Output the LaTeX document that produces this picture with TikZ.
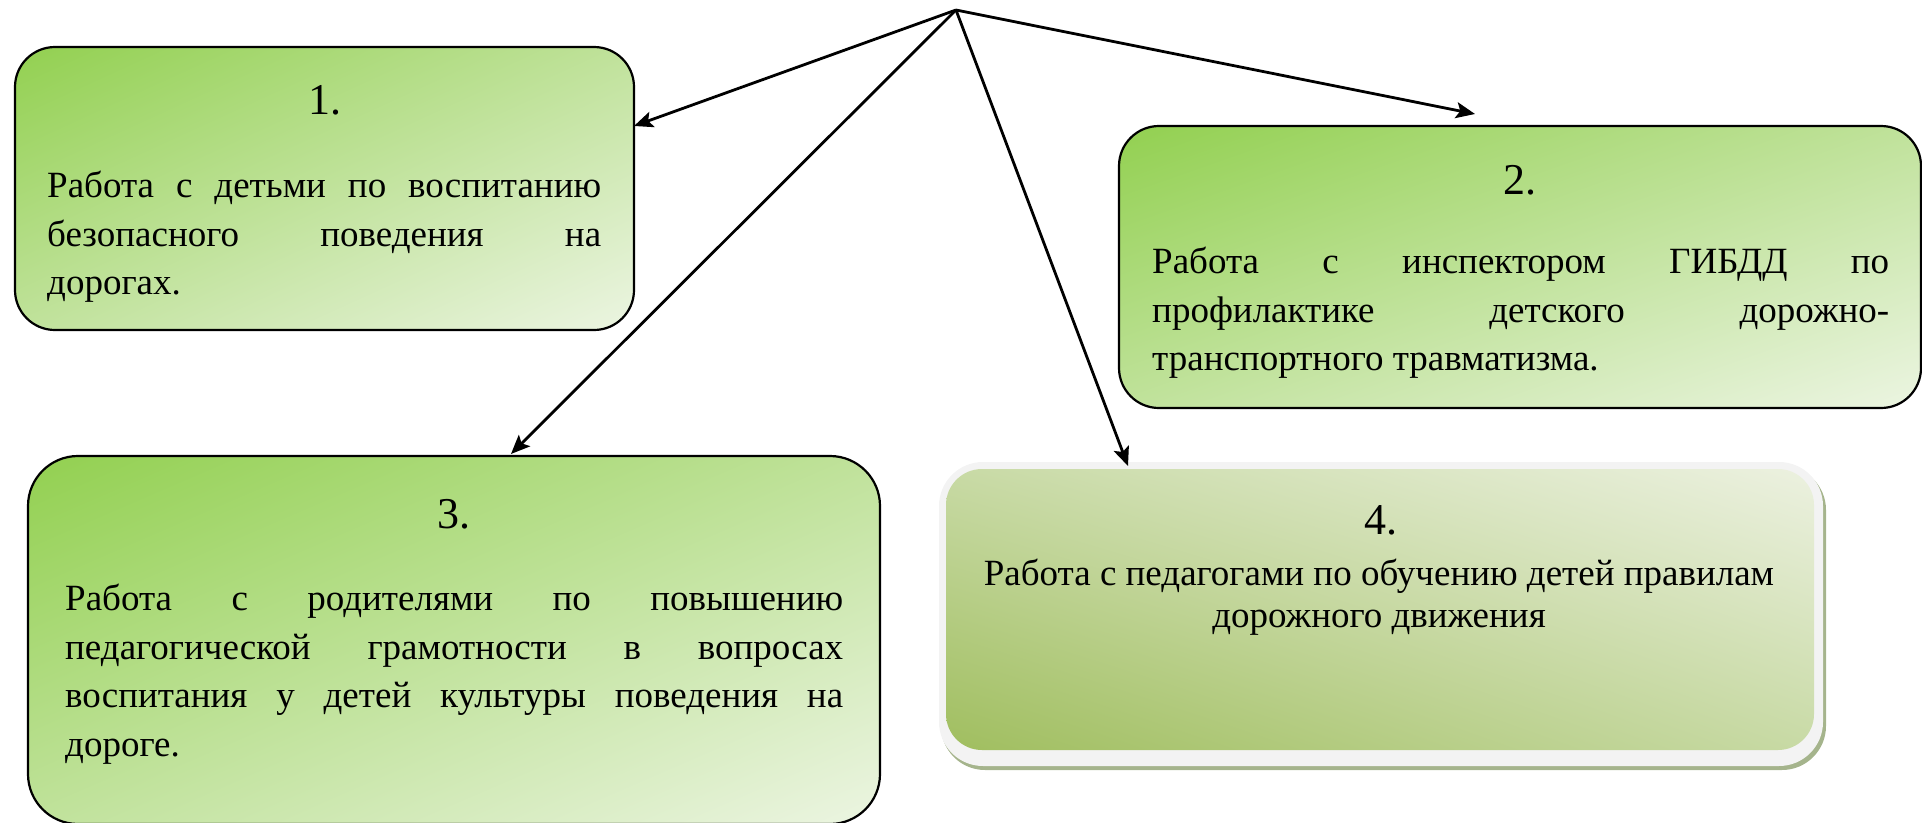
\documentclass[tikz,border=0pt]{standalone}
\usepackage{fontspec}
\setmainfont{Liberation Serif}
\usetikzlibrary{arrows.meta,shadings}
\definecolor{gDark}{RGB}{146,208,80}
\definecolor{gMid}{RGB}{192,226,155}
\definecolor{gPale}{RGB}{236,245,226}
\definecolor{oDark}{RGB}{160,190,95}
\definecolor{oMid}{RGB}{200,218,165}
\definecolor{oPale}{RGB}{236,241,224}
\definecolor{frameC}{RGB}{243,243,243}
\definecolor{shadowC}{RGB}{165,180,140}
\tikzset{
  greenbox/.style={draw=black, line width=2.2pt, rounded corners=40pt,
    upper left=gDark, upper right=gMid, lower left=gMid, lower right=gPale},
  numtext/.style={font=\fontsize{44}{50}\selectfont, inner sep=0pt},
  bodytext/.style={font=\fontsize{37}{48.5}\selectfont, inner sep=0pt, align=justify, anchor=north west},
  arr/.style={line width=2.8pt, -{Stealth[length=19pt,width=16pt,inset=4pt]}}
}
\begin{document}
\begin{tikzpicture}[x=1pt,y=-1pt]
\useasboundingbox (0,0) rectangle (1922,822);
\clip (0,0) rectangle (1922,822);
% boxes
\shadedraw[greenbox] (15,47) rectangle (634,330);
\node[inner sep=0pt, minimum width=619pt, minimum height=283pt] (b1) at (324.5,188.5) {};
\shadedraw[greenbox] (1119,126) rectangle (1921,408);
\node[inner sep=0pt, minimum width=802pt, minimum height=282pt] (b2) at (1520,267) {};
\shadedraw[greenbox, rounded corners=50pt] (28,456) rectangle (880,824);
\node[inner sep=0pt, minimum width=852pt, minimum height=368pt] (b3) at (454,640) {};
% box 4 with frame
\fill[shadowC, rounded corners=44pt] (941,466) rectangle (1826,770);
\fill[frameC, rounded corners=44pt] (939,462) rectangle (1823,766);
\shade[rounded corners=36pt, upper left=oMid, upper right=oPale, lower left=oDark, lower right=oMid] (946,469) rectangle (1814,750);
\node[inner sep=0pt, minimum width=884pt, minimum height=304pt] (b4) at (1381,614) {};
% texts
\node[numtext] (n1) at (325,100) {1.};
\node[bodytext, text width=554pt] (t1) at (47,171) {Работа с детьми по воспитанию\linebreak безопасного поведения на\linebreak дорогах.};
\node[numtext] (n2) at (1520,180) {2.};
\node[bodytext, text width=737pt] (t2) at (1152,247) {Работа с инспектором ГИБДД по\linebreak профилактике детского дорожно-\linebreak транспортного травматизма.};
\node[numtext] (n3) at (454,514) {3.};
\node[bodytext, text width=778pt] (t3) at (65,584) {Работа с родителями по повышению\linebreak педагогической грамотности в вопросах\linebreak воспитания у детей культуры поведения на\linebreak дороге.};
\node[numtext] (n4) at (1381,520) {4.};
\node[font=\fontsize{37}{42}\selectfont, inner sep=0pt, align=center, anchor=north] (t4) at (1379,559) {Работа с педагогами по обучению детей правилам\\дорожного движения};
% arrows
\coordinate (src) at (956,10);
\coordinate (e1) at (634,126);
\coordinate (e2) at (1475,114);
\coordinate (e3) at (511,454);
\coordinate (e4) at (1128,466);
\draw[arr] (src) -- (e1);
\draw[arr] (src) -- (e2);
\draw[arr] (src) -- (e3);
\draw[arr] (src) -- (e4);
\end{tikzpicture}
\end{document}
